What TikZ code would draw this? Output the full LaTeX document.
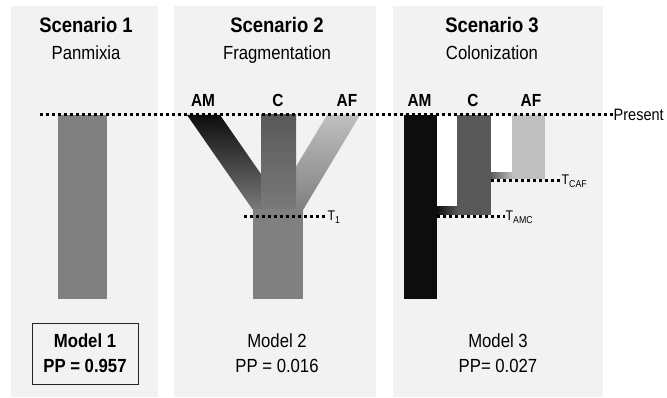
\documentclass[tikz,border=0pt]{standalone}
\usepackage{fontspec}
\setmainfont{Liberation Sans}[FakeStretch=0.88]
\newcommand\fsz[1]{\fontsize{#1}{#1}\selectfont}
\definecolor{panelgray}{HTML}{F2F2F2}
\definecolor{popAM}{HTML}{0D0D0D}
\definecolor{popC}{HTML}{595959}
\definecolor{popAF}{HTML}{BFBFBF}
\definecolor{anc}{HTML}{808080}
\definecolor{midAM}{HTML}{232323}
\definecolor{midAF}{HTML}{B0B0B0}
\definecolor{midC}{HTML}{5E5E5E}
\begin{document}
\begin{tikzpicture}[x=1pt,y=-1pt,
  panel/.style={fill=panelgray,draw=none},
  title/.style={anchor=base,font=\fsz{21}\bfseries,inner sep=0},
  subt/.style={anchor=base,font=\fsz{19},inner sep=0},
  pop/.style={anchor=base,font=\fsz{17.5}\bfseries,inner sep=0},
  dotline/.style={line width=3pt,dash pattern=on 3pt off 3pt},
  tlabel/.style={anchor=west,font=\fsz{14},inner sep=0.5pt},
  model/.style={align=center,font=\fontsize{19}{25}\selectfont,inner sep=0}]
\useasboundingbox (0,0) rectangle (667,398);
% panels
\fill[panel] (11,6) rectangle (158,397);
\fill[panel] (174,6) rectangle (376,397);
\fill[panel] (393,6) rectangle (603,397);
% titles
\node[title] (s1) at (86,33) {Scenario 1};
\node[subt] (s1b) at (86,60) {Panmixia};
\node[title] (s2) at (277,33) {Scenario 2};
\node[subt] (s2b) at (277,60) {Fragmentation};
\node[title] (s3) at (492,33) {Scenario 3};
\node[subt] (s3b) at (492,60) {Colonization};
% population labels
\node[pop] (am2) at (203,107) {AM};
\node[pop] (c2) at (278,107) {C};
\node[pop] (af2) at (347,107) {AF};
\node[pop] (am3) at (419.5,107) {AM};
\node[pop] (c3) at (473,107) {C};
\node[pop] (af3) at (531,107) {AF};
% scenario 1
\fill[anc] (58,115) rectangle (107,299);
% scenario 2
\shade[top color=popAM,middle color=midAM,bottom color=anc!95!black] (187,115) -- (220,115) -- (286,210) -- (253,210) -- cycle;
\shade[top color=popAF,middle color=midAF,bottom color=anc] (327,115) -- (360,115) -- (303,210) -- (270,210) -- cycle;
\shade[top color=popC,middle color=midC,bottom color=anc!95!black] (261,115) rectangle (296,210);
\fill[anc] (253,209.5) rectangle (303,299);
% scenario 3
\fill[white] (437,115) rectangle (457,207);
\fill[white] (491,115) rectangle (512,173);
\fill[popAM] (404,115) rectangle (437,299);
\fill[popC] (457,115) rectangle (491,215);
\fill[popAF] (512,115) rectangle (545,179);
\shade[left color=popAM,right color=popC] (436.5,207) rectangle (457.5,215);
\shade[left color=popC,right color=popAF] (490.5,173) rectangle (512.5,179);
% present line
\coordinate (pL) at (40,115);
\node[anchor=west,font=\fsz{16.5},inner sep=0.5pt] (present) at (613,115) {Present};
\draw[dotline] (pL) -- (present.west);
% time lines
\coordinate (t1L) at (244,217);
\node[tlabel] (t1) at (327,217) {T\raisebox{-3pt}{\fsz{10}1}};
\draw[dotline] (t1L) -- (t1.west);
\coordinate (tamcL) at (437,217);
\node[tlabel] (tamc) at (505,217) {T\raisebox{-3pt}{\fsz{10}AMC}};
\draw[dotline] (tamcL) -- (tamc.west);
\coordinate (tcafL) at (491,181);
\node[tlabel] (tcaf) at (561,181) {T\raisebox{-3pt}{\fsz{10}CAF}};
\draw[dotline] (tcafL) -- (tcaf.west);
% models
\node[draw=black!85,line width=0.9pt,minimum width=106pt,minimum height=61pt,model,font=\fontsize{19}{25}\selectfont\bfseries] (m1) at (85,353.5) {Model 1\\PP = 0.957};
\node[model] (m2) at (277,353.5) {Model 2\\PP = 0.016};
\node[model] (m3) at (498,353.5) {Model 3\\PP= 0.027};
\end{tikzpicture}
\end{document}
